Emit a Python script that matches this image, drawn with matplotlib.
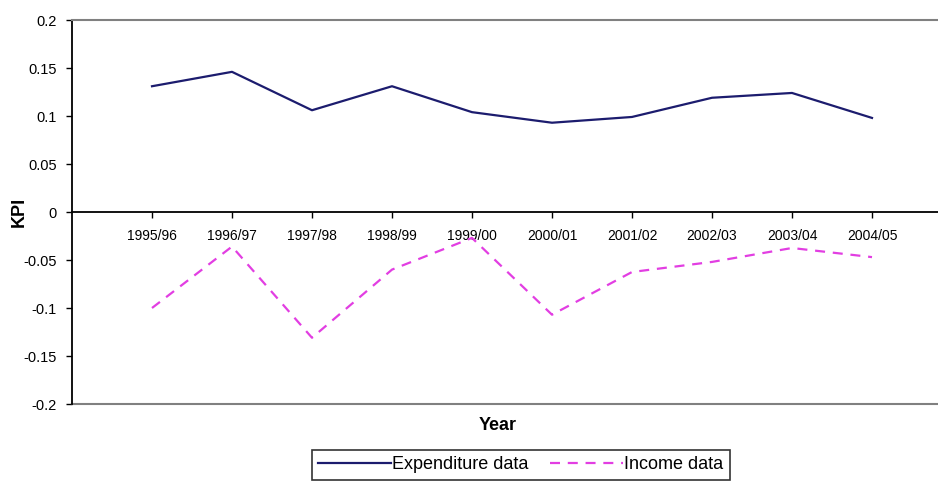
import matplotlib
matplotlib.use('Agg')
import matplotlib.pyplot as plt
from matplotlib.ticker import FuncFormatter
from matplotlib.lines import Line2D

plt.rcParams['font.family'] = ['Liberation Sans', 'DejaVu Sans']
plt.rcParams['axes.unicode_minus'] = False

# Data
years = ['1995/96', '1996/97', '1997/98', '1998/99', '1999/00',
         '2000/01', '2001/02', '2002/03', '2003/04', '2004/05']
expenditure = [0.131, 0.146, 0.106, 0.131, 0.104, 0.093, 0.099, 0.119, 0.124, 0.098]
income = [-0.100, -0.036, -0.131, -0.060, -0.027, -0.107, -0.0625, -0.052, -0.0375, -0.047]
y_ticks = [-0.2, -0.15, -0.1, -0.05, 0, 0.05, 0.1, 0.15, 0.2]

fig = plt.figure(figsize=(9.38, 4.84), dpi=100)
# plot area runs past the right edge of the picture, like the cropped original
ax = fig.add_axes([72 / 938, 80 / 484, 880 / 938, 384 / 484])

x = list(range(len(years)))
ax.plot(x, expenditure, color='#1c1c6e', linewidth=1.6, label='Expenditure data')
ax.plot(x, income, color='#e23ee2', linewidth=1.6, dashes=(4.5, 3.5), label='Income data')

ax.set_xlim(-1, len(years))
ax.set_ylim(-0.2, 0.2)
ax.set_yticks(y_ticks)
ax.yaxis.set_major_formatter(FuncFormatter(lambda v, p: '%g' % round(v, 2)))
ax.set_xticks(x)
ax.set_xticklabels(years)

# axis frame: category axis crosses at zero, grey plot-area border top and bottom
ax.spines['bottom'].set_position(('data', 0))
ax.spines['bottom'].set_linewidth(1.3)
ax.spines['left'].set_linewidth(1.3)
ax.spines['right'].set_visible(False)
ax.spines['top'].set_color('#808080')
ax.spines['top'].set_linewidth(1.5)
ax.add_line(Line2D([0, 1], [0, 0], transform=ax.transAxes, color='#808080',
                   linewidth=1.5, clip_on=False))

ax.tick_params(axis='x', direction='out', length=4, width=1, pad=8, labelsize=10)
ax.tick_params(axis='y', direction='out', length=4, width=1, pad=7, labelsize=10.5)

ax.set_ylabel('KPI', fontsize=13, fontweight='bold')
ax.yaxis.set_label_coords(-0.05, 0.5)
fig.text(498 / 938, 1 - 425 / 484, 'Year', fontsize=13, fontweight='bold',
         ha='center', va='center')

leg = fig.legend(loc='upper left', bbox_to_anchor=(312 / 938, 1 - 450 / 484),
                 ncol=2, fontsize=13, frameon=True, fancybox=False,
                 handlelength=4.0, handletextpad=0.1, columnspacing=1.2,
                 borderpad=0.35, borderaxespad=0)
leg.get_frame().set_edgecolor('black')
leg.get_frame().set_linewidth(1.2)

fig.savefig('out.png', dpi=100)
